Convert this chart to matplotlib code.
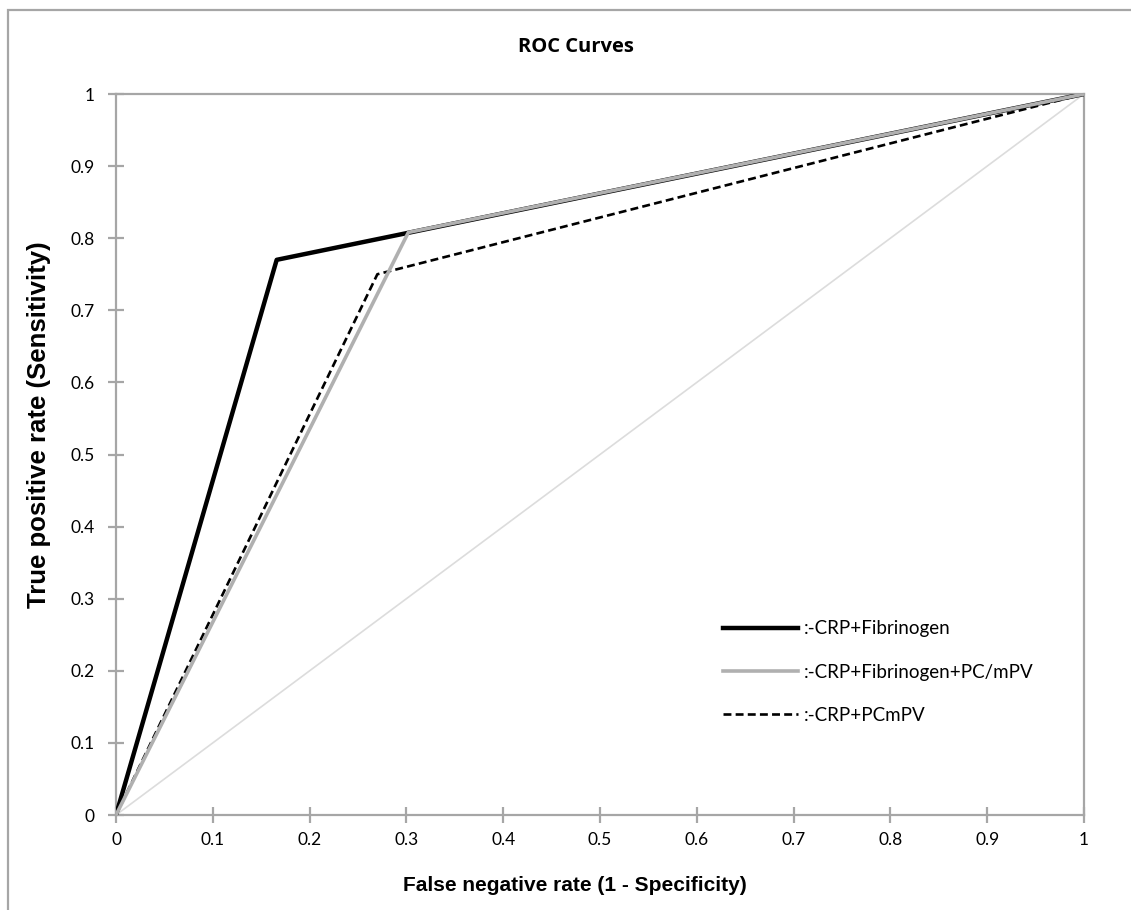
import matplotlib
matplotlib.use("Agg")
import matplotlib.pyplot as plt
from matplotlib.patches import Rectangle

# ROC points (false positive rate, sensitivity)
fpr_fib = [0, 0.166, 1]
tpr_fib = [0, 0.770, 1]
fpr_fib_pc = [0, 0.302, 1]
tpr_fib_pc = [0, 0.808, 1]
fpr_pcmpv = [0, 0.27, 1]
tpr_pcmpv = [0, 0.75, 1]
ref_x = [0, 1]
ref_y = [0, 1]

labels = [":-CRP+Fibrinogen", ":-CRP+Fibrinogen+PC/mPV", ":-CRP+PCmPV"]
ticks = [0, 0.1, 0.2, 0.3, 0.4, 0.5, 0.6, 0.7, 0.8, 0.9, 1]
tick_labels = ["0", "0.1", "0.2", "0.3", "0.4", "0.5", "0.6", "0.7", "0.8", "0.9", "1"]

axis_gray = "#a6a6a6"
tick_font = "Lato"

fig = plt.figure(figsize=(11.31, 9.10), dpi=100)
ax = fig.add_axes([116 / 1131, 1 - 815 / 910, (1084 - 116) / 1131, (815 - 94) / 910])

# outer chart border (runs off the right and bottom of the image)
fig.patches.append(Rectangle((8 / 1131, -0.2), 2, 1.2 - 10 / 910, transform=fig.transFigure,
                             fill=False, edgecolor=axis_gray, linewidth=1.6))

ax.plot(ref_x, ref_y, color="#dcdcdc", linewidth=1.2, zorder=1)
ax.plot(fpr_pcmpv, tpr_pcmpv, color="black", linewidth=1.9, linestyle=(0, (3, 1.6)),
        label=labels[2], zorder=2)
ax.plot(fpr_fib, tpr_fib, color="black", linewidth=3.2, label=labels[0], zorder=3)
ax.plot(fpr_fib_pc, tpr_fib_pc, color="#b0b0b0", linewidth=2.6, label=labels[1], zorder=4)

ax.set_xlim(0, 1)
ax.set_ylim(0, 1)
ax.set_xticks(ticks)
ax.set_xticklabels(tick_labels)
ax.set_yticks(ticks)
ax.set_yticklabels(tick_labels)

for sp in ax.spines.values():
    sp.set_color(axis_gray)
    sp.set_linewidth(1.6)

ax.tick_params(axis="both", direction="inout", length=11, width=1.6, color=axis_gray,
               labelsize=12.5, pad=7)
ax.tick_params(axis="y", pad=10)
for lab in ax.get_xticklabels() + ax.get_yticklabels():
    lab.set_fontfamily(tick_font)

ax.set_xlabel("False negative rate (1 - Specificity)", fontsize=15, fontweight="bold",
              family="Liberation Sans")
ax.xaxis.set_label_coords(0.474, -0.085)
ax.set_ylabel("True positive rate (Sensitivity)", fontsize=18.5, fontweight="bold",
              family="Liberation Sans")
ax.yaxis.set_label_coords(-0.067, 0.541)

fig.text(576 / 1131, 1 - 47 / 910, "ROC Curves", ha="center", va="center",
         fontsize=14.5, fontweight="bold", family="Open Sans")

h, l = ax.get_legend_handles_labels()
order = [1, 2, 0]
leg = ax.legend([h[i] for i in order], [l[i] for i in order], loc="center left",
                bbox_to_anchor=(0.627, 0.198), frameon=False, borderpad=0, borderaxespad=0,
                handlelength=4.0, handletextpad=0.3, labelspacing=1.4,
                prop={"family": tick_font, "size": 13.5})

fig.savefig("out.png", dpi=100, facecolor="white")
